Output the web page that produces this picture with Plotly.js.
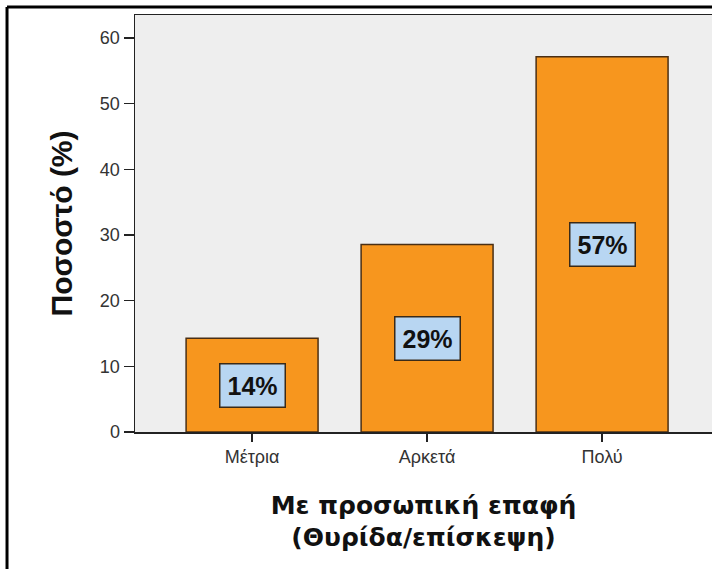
<!DOCTYPE html>
<html>
<head>
<meta charset="utf-8">
<script src="https://cdn.plot.ly/plotly-3.0.1.min.js"></script>
<style>html,body{margin:0;padding:0;background:#fff;overflow:hidden}#chart{width:712px;height:569px}</style>
</head>
<body>
<div id="chart"></div>
<script>
const categories = ["Μέτρια", "Αρκετά", "Πολύ"];
const percentValues = [14.29, 28.57, 57.14];
const barLabels = ["14%", "29%", "57%"];
const yTickValues = [0, 10, 20, 30, 40, 50, 60];
const xTitleText = "Με προσωπική επαφή<br>(Θυρίδα/επίσκεψη)";
const yTitleText = "Ποσοστό (%)";

const trace = {
  type: "bar",
  x: categories,
  y: percentValues,
  width: 0.754,
  marker: {color: "#f7961e", line: {color: "#4a2f14", width: 1.5}},
  hoverinfo: "none"
};

const annotations = categories.map((c, i) => ({
  x: c, y: percentValues[i] / 2, xref: "x", yref: "y",
  text: barLabels[i], showarrow: false,
  font: {family: "Liberation Sans, Arial, sans-serif", size: 25, color: "#111", weight: "bold"},
  bgcolor: "#b8d6f2", bordercolor: "#3a2a18", borderwidth: 1.5, borderpad: 7
}));

const layout = {
  width: 712, height: 569,
  margin: {l: 135, r: 0, t: 15, b: 137},
  paper_bgcolor: "#ffffff",
  plot_bgcolor: "#eeeeee",
  showlegend: false,
  bargap: 0,
  xaxis: {
    range: [-0.669, 2.628],
    showgrid: false, zeroline: false,
    showline: true, linecolor: "#222", linewidth: 1.5, mirror: true,
    ticks: "outside", ticklen: 8, tickcolor: "#222", tickwidth: 1.5,
    tickfont: {family: "Liberation Sans, Arial, sans-serif", size: 18, color: "#333"},
    title: {text: xTitleText, standoff: 30,
      font: {family: "DejaVu Sans, sans-serif", size: 25, color: "#111", weight: "bold"}}
  },
  yaxis: {
    range: [0, 63.5],
    tickvals: yTickValues,
    showgrid: false, zeroline: false,
    showline: true, linecolor: "#222", linewidth: 1.5,
    ticks: "outside", ticklen: 10, tickcolor: "#222", tickwidth: 1.5,
    tickfont: {family: "Liberation Sans, Arial, sans-serif", size: 18, color: "#333"},
    title: {text: yTitleText, standoff: 18,
      font: {family: "Liberation Sans, Arial, sans-serif", size: 30, color: "#111", weight: "bold"}}
  },
  annotations: annotations,
  shapes: [
    {type: "line", xref: "paper", yref: "paper", x0: -0.2218, x1: 1.02, y0: 1.0192, y1: 1.0192, line: {color: "#000", width: 3}},
    {type: "line", xref: "paper", yref: "paper", x0: -0.2218, x1: -0.2218, y0: 1.0192, y1: -0.35, line: {color: "#000", width: 3}}
  ]
};

Plotly.newPlot("chart", [trace], layout, {displayModeBar: false, staticPlot: true});
</script>
</body>
</html>
